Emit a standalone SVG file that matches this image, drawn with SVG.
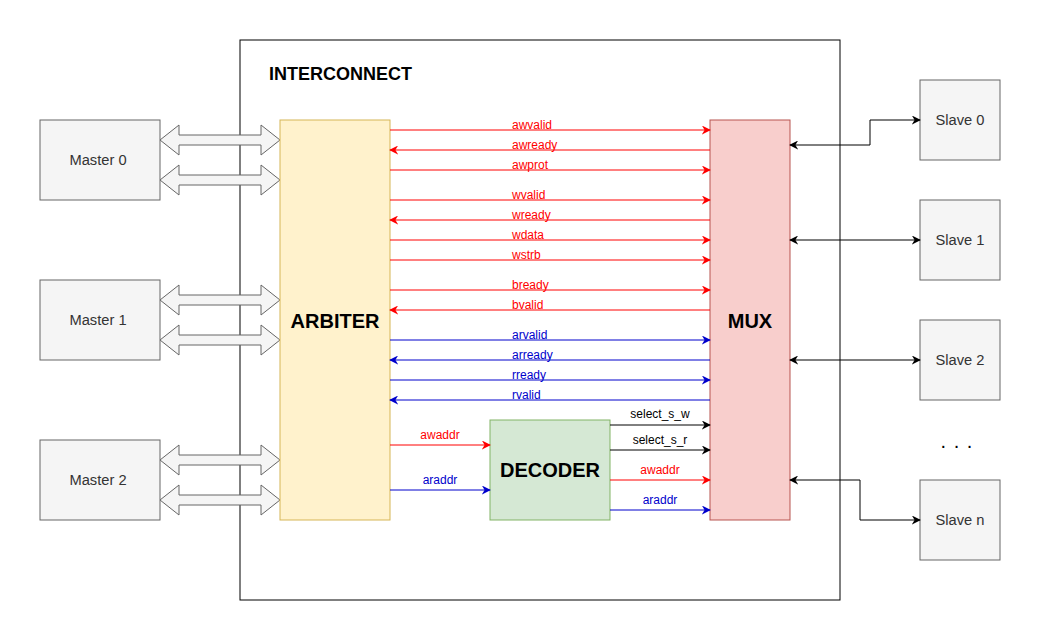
<svg xmlns="http://www.w3.org/2000/svg" width="1041" height="642" viewBox="0 0 1041 642">
<defs>
<marker id="ar" viewBox="0 0 10 10" refX="9" refY="5" markerWidth="9" markerHeight="9" markerUnits="userSpaceOnUse" orient="auto-start-reverse">
<path d="M0,0 L10,5 L0,10 L3,5 z" fill="#FF0000"/>
</marker>
<marker id="ab" viewBox="0 0 10 10" refX="9" refY="5" markerWidth="9" markerHeight="9" markerUnits="userSpaceOnUse" orient="auto-start-reverse">
<path d="M0,0 L10,5 L0,10 L3,5 z" fill="#0000CC"/>
</marker>
<marker id="ak" viewBox="0 0 10 10" refX="9" refY="5" markerWidth="9" markerHeight="9" markerUnits="userSpaceOnUse" orient="auto-start-reverse">
<path d="M0,0 L10,5 L0,10 L3,5 z" fill="#000000"/>
</marker>
<path id="barrow" d="M0,15 L19,0 L19,10 L101,10 L101,0 L120,15 L101,30 L101,20 L19,20 L19,30 Z"/>
</defs>
<style>
text{font-family:"Liberation Sans",Arial,sans-serif}
.gray{fill:#f5f5f5;stroke:#666666;stroke-width:1}
.nl{font-size:14.7px;fill:#333333;text-anchor:middle}
.big{font-size:20px;font-weight:bold;fill:#000;text-anchor:middle}
.r{stroke:#FF0000;stroke-width:1;fill:none;marker-end:url(#ar)}
.b{stroke:#0000CC;stroke-width:1;fill:none;marker-end:url(#ab)}
.k{stroke:#000000;stroke-width:1;fill:none;marker-end:url(#ak)}
.kk{stroke:#000000;stroke-width:1;fill:none;marker-end:url(#ak);marker-start:url(#ak)}
.lr{font-size:12px;fill:#FF0000}
.lb{font-size:12px;fill:#0000CC}
.lk{font-size:12px;fill:#000000}
.ba{fill:#f5f5f5;stroke:#666666;stroke-width:1}
</style>
<rect width="1041" height="642" fill="#ffffff"/>
<g id="interconnect">
<rect x="240" y="40" width="600" height="560" fill="#ffffff" stroke="#000000"/>
<text x="269" y="80" font-size="18" font-weight="bold">INTERCONNECT</text>
</g>
<g id="master0"><rect class="gray" x="40" y="120" width="120" height="80"/><text class="nl" x="98" y="165">Master 0</text></g>
<g id="master1"><rect class="gray" x="40" y="280" width="120" height="80"/><text class="nl" x="98" y="325">Master 1</text></g>
<g id="master2"><rect class="gray" x="40" y="440" width="120" height="80"/><text class="nl" x="98" y="485">Master 2</text></g>
<g id="slave0"><rect class="gray" x="920" y="80" width="80" height="80"/><text class="nl" x="960" y="125">Slave 0</text></g>
<g id="slave1"><rect class="gray" x="920" y="200" width="80" height="80"/><text class="nl" x="960" y="245">Slave 1</text></g>
<g id="slave2"><rect class="gray" x="920" y="320" width="80" height="80"/><text class="nl" x="960" y="365">Slave 2</text></g>
<g id="slaven"><rect class="gray" x="920" y="480" width="80" height="80"/><text class="nl" x="960" y="525">Slave n</text></g>
<g id="dots"><text x="957" y="448" font-size="20" text-anchor="middle" fill="#000" letter-spacing="1">. . .</text></g>
<g id="buses">
<use href="#barrow" class="ba" x="160" y="125"/>
<use href="#barrow" class="ba" x="160" y="165"/>
<use href="#barrow" class="ba" x="160" y="285"/>
<use href="#barrow" class="ba" x="160" y="325"/>
<use href="#barrow" class="ba" x="160" y="445"/>
<use href="#barrow" class="ba" x="160" y="485"/>
</g>
<g id="arbiter"><rect x="280" y="120" width="110" height="400" fill="#fff2cc" stroke="#d6b656"/><text class="big" x="335" y="328">ARBITER</text></g>
<g id="mux"><rect x="710" y="120" width="80" height="400" fill="#f8cecc" stroke="#b85450"/><text class="big" x="750" y="328">MUX</text></g>
<g id="decoder"><rect x="490" y="420" width="120" height="100" fill="#d5e8d4" stroke="#82b366"/><text class="big" x="550" y="477">DECODER</text></g>
<g id="connectors">
<path class="r" d="M390,130 H710"/>
<path class="r" d="M710,150 H390"/>
<path class="r" d="M390,170 H710"/>
<path class="r" d="M390,200 H710"/>
<path class="r" d="M710,220 H390"/>
<path class="r" d="M390,240 H710"/>
<path class="r" d="M390,260 H710"/>
<path class="r" d="M390,290 H710"/>
<path class="r" d="M710,310 H390"/>
<path class="b" d="M390,340 H710"/>
<path class="b" d="M710,360 H390"/>
<path class="b" d="M390,380 H710"/>
<path class="b" d="M710,400 H390"/>
<path class="r" d="M390,445 H490"/>
<path class="b" d="M390,490 H490"/>
<path class="k" d="M610,425 H710"/>
<path class="k" d="M610,450 H710"/>
<path class="r" d="M610,480 H710"/>
<path class="b" d="M610,510 H710"/>
<path class="kk" d="M790,145 H870 V120 H920"/>
<path class="kk" d="M790,240 H920"/>
<path class="kk" d="M790,360 H920"/>
<path class="kk" d="M790,480 H860 V520 H920"/>
</g>
<g id="labels">
<text class="lr" x="512" y="129">awvalid</text>
<text class="lr" x="512" y="149">awready</text>
<text class="lr" x="512" y="169">awprot</text>
<text class="lr" x="512" y="199">wvalid</text>
<text class="lr" x="512" y="219">wready</text>
<text class="lr" x="512" y="239">wdata</text>
<text class="lr" x="512" y="259">wstrb</text>
<text class="lr" x="512" y="289">bready</text>
<text class="lr" x="512" y="309">bvalid</text>
<text class="lb" x="512" y="339">arvalid</text>
<text class="lb" x="512" y="359">arready</text>
<text class="lb" x="512" y="379">rready</text>
<text class="lb" x="512" y="399">rvalid</text>
<text class="lr" x="440" y="439" text-anchor="middle">awaddr</text>
<text class="lb" x="440" y="484" text-anchor="middle">araddr</text>
<text class="lk" x="660" y="418" text-anchor="middle">select_s_w</text>
<text class="lk" x="660" y="444" text-anchor="middle">select_s_r</text>
<text class="lr" x="660" y="474" text-anchor="middle">awaddr</text>
<text class="lb" x="660" y="504" text-anchor="middle">araddr</text>
</g>
</svg>
